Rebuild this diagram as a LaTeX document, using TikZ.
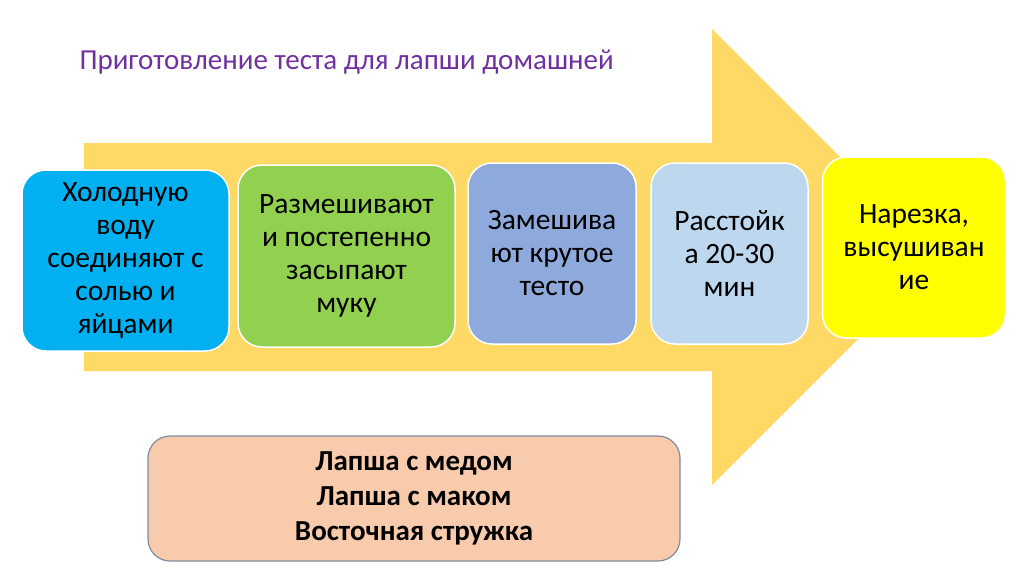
\documentclass[tikz,border=0pt]{standalone}
\usepackage{fontspec}
\setmainfont{Carlito}
\usetikzlibrary{positioning}

\definecolor{arrowyellow}{HTML}{FFD966}
\definecolor{titlepurple}{HTML}{7030A0}
\definecolor{boxcyan}{HTML}{00B0F0}
\definecolor{boxgreen}{HTML}{92D050}
\definecolor{boxblue}{HTML}{8EA9DB}
\definecolor{boxpale}{HTML}{BDD7EE}
\definecolor{boxyellow}{HTML}{FFFF00}
\definecolor{boxpeach}{HTML}{F8CBAD}
\definecolor{boxedge}{HTML}{7F8C9F}

\tikzset{
    stage/.style={rounded corners=24pt, draw=white, line width=1.5pt,
        align=center, inner sep=0pt, text=black,
        font=\fontsize{29.5}{33}\selectfont},
    kinds/.style={rounded corners=22pt, draw=boxedge, line width=1.2pt,
        fill=boxpeach, align=center, inner sep=0pt,
        minimum width=532pt, minimum height=125pt,
        font=\fontsize{29}{35}\selectfont\bfseries}
}

\begin{document}
\begin{tikzpicture}[x=1pt, y=-1pt]
    \useasboundingbox (0,0) rectangle (1024,574);

    % Big arrow behind the steps
    \fill[arrowyellow] (84,143) -- (712,143) -- (712,29) -- (940,257)
        -- (712,485) -- (712,371) -- (84,371) -- cycle;

    % Title
    \node[anchor=west, text=titlepurple, font=\fontsize{29}{34}\selectfont]
        (title) at (76,62) {Приготовление теста для лапши домашней};

    % Steps
    \node[stage, fill=boxcyan, minimum width=207pt, minimum height=181pt]
        (water) at (125.5,260.5) {Холодную\\воду\\соединяют с\\солью и\\яйцами};
    \node[stage, fill=boxgreen, minimum width=217pt, minimum height=182pt]
        (stir) at (346.5,256) {Размешивают\\и постепенно\\засыпают\\муку};
    \node[stage, fill=boxblue, minimum width=168pt, minimum height=181pt]
        (knead) at (552,253.5) {Замешива\\ют крутое\\тесто};
    \node[stage, fill=boxpale, minimum width=157pt, minimum height=181pt]
        (rest) at (729.5,253.5) {Расстойк\\а 20-30\\мин};
    \node[stage, fill=boxyellow, minimum width=183pt, minimum height=181pt]
        (cut) at (914,247.5) {Нарезка,\\высушиван\\ие};

    % Kinds of noodles
    \node[kinds] (kinds) at (414,498.5)
        {Лапша с медом\\Лапша с маком\\Восточная стружка};
\end{tikzpicture}
\end{document}
